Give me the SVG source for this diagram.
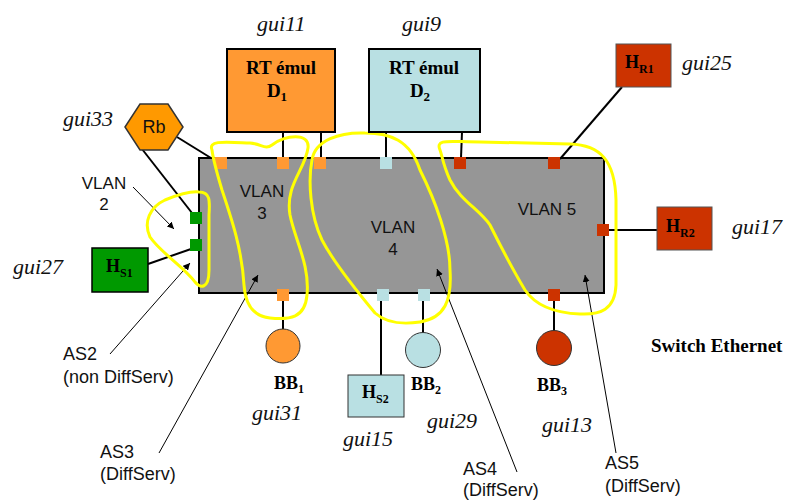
<svg xmlns="http://www.w3.org/2000/svg" width="785" height="501" viewBox="0 0 785 501">
<style>
.box{stroke:#000;stroke-width:2}
.thin{stroke:#333;stroke-width:1}
.ln{stroke:#000;stroke-width:2;fill:none}
.ar{stroke:#000;stroke-width:1;fill:none;marker-end:url(#ah)}
.blob{fill:none;stroke:#FFFF00;stroke-width:3}
.or{fill:#FF9933}
.lb{fill:#B9E0E3}
.rd{fill:#CC3300}
.gr{fill:#009900}
.sans{font-family:"Liberation Sans",Arial,sans-serif;fill:#111}
.tb{font-family:"Liberation Serif","Times New Roman",serif;font-weight:bold;fill:#000}
.gui{font-family:"Liberation Serif","Times New Roman",serif;font-style:italic;font-size:22px;fill:#111}
</style>
<defs>
<marker id="ah" viewBox="0 0 10 10" refX="10" refY="5" markerWidth="7" markerHeight="7" orient="auto" markerUnits="userSpaceOnUse">
<path d="M0,0 L10,5 L0,10 z" fill="#000"/>
</marker>
</defs>
<rect width="785" height="501" fill="#fff"/>

<g id="switch">
<rect x="199" y="158" width="405" height="135" fill="#969696" class="box"/>
<text class="sans" font-size="17" x="262" y="197" text-anchor="middle">VLAN</text>
<text class="sans" font-size="17" x="262" y="219" text-anchor="middle">3</text>
<text class="sans" font-size="17" x="393" y="233" text-anchor="middle">VLAN</text>
<text class="sans" font-size="17" x="393" y="255" text-anchor="middle">4</text>
<text class="sans" font-size="17" x="547" y="215" text-anchor="middle">VLAN 5</text>
<text class="tb" font-size="19" x="651" y="352">Switch Ethernet</text>
</g>

<g id="connectors">
<line class="ln" x1="177" y1="137" x2="211" y2="158"/>
<line class="ln" x1="142" y1="149" x2="192" y2="213"/>
<line class="ln" x1="148" y1="264" x2="191" y2="249"/>
<line class="ln" x1="283" y1="132" x2="283" y2="158"/>
<line class="ln" x1="321" y1="132" x2="321" y2="158"/>
<line class="ln" x1="386" y1="132" x2="386" y2="158"/>
<line class="ln" x1="462" y1="132" x2="461" y2="158"/>
<line class="ln" x1="622" y1="87" x2="560" y2="159"/>
<line class="ln" x1="607" y1="230" x2="657" y2="230"/>
<line class="ln" x1="283" y1="300" x2="283" y2="329"/>
<line class="ln" x1="381" y1="300" x2="381" y2="375"/>
<line class="ln" x1="423" y1="300" x2="423" y2="333"/>
<line class="ln" x1="554" y1="300" x2="554" y2="331"/>
<line class="ar" x1="133" y1="187" x2="174" y2="229"/>
<line class="ar" x1="110" y1="354" x2="190" y2="263"/>
<line class="ar" x1="159" y1="453" x2="258" y2="275"/>
<line class="ar" x1="517" y1="472" x2="437" y2="269"/>
<line class="ar" x1="616" y1="453" x2="585" y2="275"/>
</g>

<g id="ports">
<rect class="or" x="215" y="157" width="12" height="12"/>
<rect class="or" x="277" y="157" width="12" height="12"/>
<rect class="or" x="314" y="157" width="12" height="12"/>
<rect class="lb" x="380" y="157" width="12" height="12"/>
<rect class="rd" x="454" y="157" width="12" height="12"/>
<rect class="rd" x="548" y="157" width="12" height="12"/>
<rect class="rd" x="597" y="224" width="12" height="12"/>
<rect class="gr" x="190" y="212" width="12" height="12"/>
<rect class="gr" x="190" y="239" width="12" height="12"/>
<rect class="or" x="277" y="289" width="12" height="12"/>
<rect class="lb" x="377" y="289" width="12" height="12"/>
<rect class="lb" x="418" y="289" width="12" height="12"/>
<rect class="rd" x="548" y="289" width="12" height="12"/>
</g>

<g id="vlans">
<path class="blob" d="M199 192 C210 192,210 200,209 215 L209 270 C209 290,200 288,195 282 C185 268,160 252,150 237 C143 222,150 207,165 200 C180 194,190 191,199 192 Z"/>
<path class="blob" d="M212 150 C208 140,225 142,250 143 C262 144,265 150,272 145 C285 135,310 132,308 148 C305 170,285 185,290 215 C295 240,310 265,307 295 C305 318,290 320,270 318 C250 316,245 300,244 285 C242 250,232 220,222 190 C216 170,213 158,212 150 Z"/>
<path class="blob" d="M312 160 C315 140,340 132,365 133 C390 133,410 140,420 170 C435 200,450 240,450 270 C452 300,445 318,420 322 C400 325,385 322,375 313 C360 295,335 265,322 240 C310 215,308 180,312 160 Z"/>
<path class="blob" d="M440 150 C435 138,450 142,480 142 L570 144 C600 145,615 160,616 200 L616 285 C615 310,600 315,580 314 C555 313,535 305,525 290 C510 265,500 245,490 225 C480 210,460 200,450 180 C443 165,442 155,440 150 Z"/>
</g>

<g id="D1">
<rect x="227" y="49" width="108" height="83" fill="#FF9933" class="box"/>
<text class="tb" font-size="19" x="281" y="74" text-anchor="middle">RT émul</text>
<text class="tb" font-size="19" x="277" y="97" text-anchor="middle">D<tspan font-size="13" dy="4">1</tspan></text>
<text class="gui" x="257" y="31">gui11</text>
</g>

<g id="D2">
<rect x="369" y="49" width="111" height="83" fill="#B9E0E3" class="box"/>
<text class="tb" font-size="19" x="424" y="74" text-anchor="middle">RT émul</text>
<text class="tb" font-size="19" x="420" y="97" text-anchor="middle">D<tspan font-size="13" dy="4">2</tspan></text>
<text class="gui" x="402" y="31">gui9</text>
</g>

<g id="Rb">
<polygon points="125,127 140,104 168,104 183,127 168,150 140,150" fill="#FF9900" stroke="#333" stroke-width="1.5"/>
<text class="sans" font-size="18" x="154" y="133" text-anchor="middle">Rb</text>
<text class="gui" x="63" y="126">gui33</text>
</g>

<g id="VLAN2label">
<text class="sans" font-size="17" x="104" y="189" text-anchor="middle">VLAN</text>
<text class="sans" font-size="17" x="104" y="210" text-anchor="middle">2</text>
</g>

<g id="HS1">
<rect x="92" y="248" width="56" height="44" class="gr" stroke="#000" stroke-width="1.5"/>
<text class="tb" font-size="18" x="106" y="272">H<tspan font-size="12" dy="5">S1</tspan></text>
<text class="gui" x="13" y="274">gui27</text>
</g>

<g id="HR1">
<rect x="616" y="44" width="55" height="43" class="rd" stroke="#555" stroke-width="1"/>
<text class="tb" font-size="18" x="625" y="68">H<tspan font-size="12" dy="5">R1</tspan></text>
<text class="gui" x="682" y="70">gui25</text>
</g>

<g id="HR2">
<rect x="657" y="207" width="55" height="43" class="rd" stroke="#555" stroke-width="1"/>
<text class="tb" font-size="18" x="666" y="232">H<tspan font-size="12" dy="5">R2</tspan></text>
<text class="gui" x="732" y="234">gui17</text>
</g>

<g id="BB1">
<circle cx="283" cy="346" r="17" fill="#FF9933" class="thin"/>
<text class="tb" font-size="18" x="274" y="389">BB<tspan font-size="12" dy="4">1</tspan></text>
<text class="gui" x="252" y="420">gui31</text>
</g>

<g id="HS2">
<rect x="348" y="375" width="56" height="42" class="lb" stroke="#333" stroke-width="1"/>
<text class="tb" font-size="18" x="362" y="398">H<tspan font-size="12" dy="5">S2</tspan></text>
<text class="gui" x="343" y="446">gui15</text>
</g>

<g id="BB2">
<circle cx="423" cy="350" r="17.5" fill="#B9E0E3" class="thin"/>
<text class="tb" font-size="18" x="411" y="390">BB<tspan font-size="12" dy="4">2</tspan></text>
<text class="gui" x="427" y="428">gui29</text>
</g>

<g id="BB3">
<circle cx="554" cy="348" r="17.5" fill="#CC3300" class="thin"/>
<text class="tb" font-size="18" x="537" y="391">BB<tspan font-size="12" dy="4">3</tspan></text>
<text class="gui" x="542" y="432">gui13</text>
</g>

<g id="AS-labels">
<text class="sans" font-size="18" x="63" y="360">AS2</text>
<text class="sans" font-size="18" x="63" y="383">(non DiffServ)</text>
<text class="sans" font-size="18" x="100" y="458">AS3</text>
<text class="sans" font-size="18" x="100" y="480">(DiffServ)</text>
<text class="sans" font-size="18" x="463" y="475">AS4</text>
<text class="sans" font-size="18" x="463" y="496">(DiffServ)</text>
<text class="sans" font-size="18" x="605" y="469">AS5</text>
<text class="sans" font-size="18" x="605" y="492">(DiffServ)</text>
</g>
</svg>
